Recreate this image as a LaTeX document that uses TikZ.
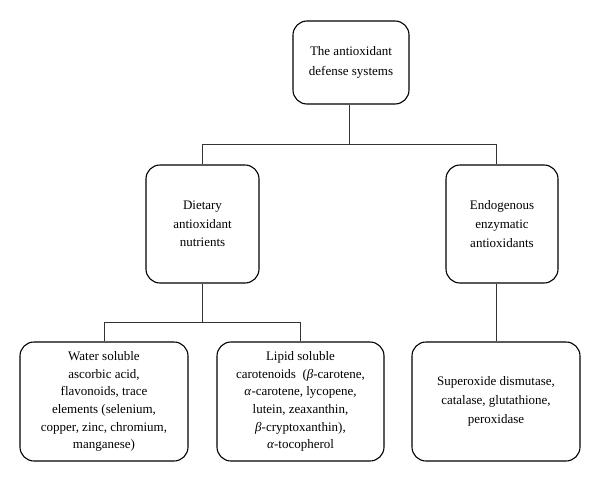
\documentclass[tikz,border=0pt]{standalone}
\usepackage{fontspec}
\setmainfont{Liberation Serif}
\begin{document}
\begin{tikzpicture}[x=1pt,y=-1pt,
  box/.style={draw=black, line width=1.1pt, rounded corners=14pt, inner sep=0pt,
    align=center, font=\fontsize{13}{17.6}\selectfont},
  conn/.style={draw=black!80, line width=1.2pt}]
\useasboundingbox (0,0) rectangle (600,482);
\node[box, minimum width=116pt, minimum height=83pt, font=\fontsize{13}{20.7}\selectfont] (top) at (351,62.5)
  {The antioxidant\\defense systems};
\node[box, minimum width=113pt, minimum height=118pt, font=\fontsize{13}{18.7}\selectfont] (diet) at (202.5,224)
  {Dietary\\antioxidant\\nutrients};
\node[box, minimum width=112pt, minimum height=118pt, font=\fontsize{13}{18.7}\selectfont] (endo) at (502,224)
  {Endogenous\\enzymatic\\antioxidants};
\node[box, minimum width=168pt, minimum height=119pt] (water) at (104,401.5)
  {Water soluble\\ascorbic acid,\\flavonoids, trace\\elements (selenium,\\copper, zinc, chromium,\\manganese)};
\node[box, minimum width=167pt, minimum height=119pt] (lipid) at (300.5,401.5)
  {Lipid soluble\\carotenoids\ \ (\textit{β}-carotene,\\\textit{α}-carotene, lycopene,\\lutein, zeaxanthin,\\\textit{β}-cryptoxanthin),\\\textit{α}-tocopherol};
\node[box, minimum width=168pt, minimum height=119pt, font=\fontsize{13}{18.7}\selectfont] (enz) at (496,401.5)
  {Superoxide dismutase,\\catalase, glutathione,\\peroxidase};
\coordinate (hl) at (202.5,144.5);
\coordinate (hm) at (349.5,144.5);
\coordinate (hr) at (496.5,144.5);
\coordinate (bl) at (104.5,322.5);
\coordinate (bm) at (202.5,322.5);
\coordinate (br) at (300.5,322.5);
\draw[conn] (hm |- top.south) -- (hm);
\draw[conn] (hl |- diet.north) -- (hl) -- (hr) -- (hr |- endo.north);
\draw[conn] (bm |- diet.south) -- (bm);
\draw[conn] (bl |- water.north) -- (bl) -- (br) -- (br |- lipid.north);
\draw[conn] (hr |- endo.south) -- (hr |- enz.north);
\end{tikzpicture}
\end{document}
